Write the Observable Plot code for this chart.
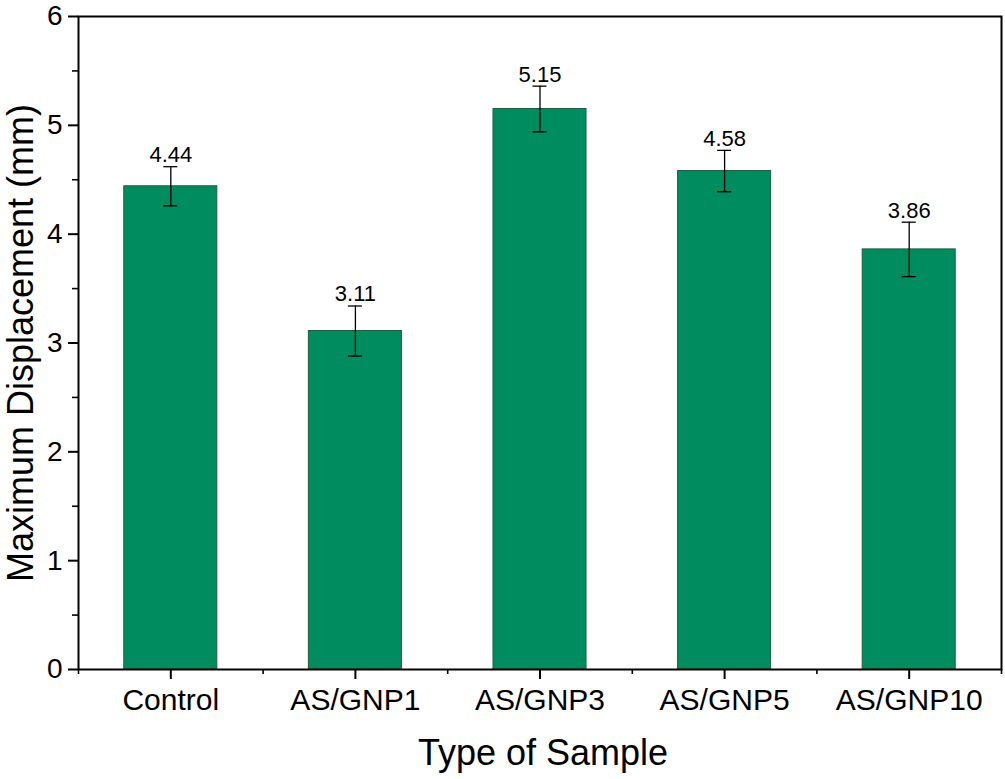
<!DOCTYPE html>
<html>
<head>
<meta charset="utf-8">
<script src="https://cdn.jsdelivr.net/npm/d3@7"></script>
<script src="https://cdn.jsdelivr.net/npm/@observablehq/plot@0.6"></script>
<style>
  html, body { margin: 0; padding: 0; background: #fff; }
  #chart svg { display: block; }
</style>
</head>
<body>
<div id="chart"></div>
<script>
const categories = ["Control", "AS/GNP1", "AS/GNP3", "AS/GNP5", "AS/GNP10"];
const values = [4.44, 3.11, 5.15, 4.58, 3.86];
const errors = [0.18, 0.23, 0.21, 0.19, 0.25];
const yTicks = [0, 1, 2, 3, 4, 5, 6];
const yMinorTicks = [0.5, 1.5, 2.5, 3.5, 4.5, 5.5];
const xTicks = [0, 1, 2, 3, 4];
const xMinorTicks = [-0.5, 0.5, 1.5, 2.5, 3.5, 4.5];
const yTitle = "Maximum Displacement (mm)";
const xTitle = "Type of Sample";

const data = categories.map((c, i) => ({ i, cat: c, value: values[i], err: errors[i] }));

const barHalf = 0.252;
const capHalf = 0.038;
const green = "#008c5e";

const chart = Plot.plot({
  width: 1005,
  height: 779,
  marginLeft: 78,
  marginRight: 4,
  marginTop: 16,
  marginBottom: 110,
  style: { fontFamily: "'Liberation Sans', Arial, sans-serif", background: "#fff", color: "#000" },
  x: { domain: [-0.5, 4.5] },
  y: { domain: [0, 6] },
  marks: [
    Plot.rect(data, {
      x1: d => d.i - barHalf, x2: d => d.i + barHalf,
      y1: 0, y2: "value",
      fill: green, stroke: "#1d5e40", strokeWidth: 1
    }),
    Plot.ruleX(data, { x: "i", y1: d => d.value - d.err, y2: d => d.value + d.err, stroke: "#000", strokeWidth: 1.3 }),
    Plot.ruleY(data, { y: d => d.value + d.err, x1: d => d.i - capHalf, x2: d => d.i + capHalf, stroke: "#000", strokeWidth: 1.3 }),
    Plot.ruleY(data, { y: d => d.value - d.err, x1: d => d.i - capHalf, x2: d => d.i + capHalf, stroke: "#000", strokeWidth: 1.3 }),
    Plot.text(data, {
      x: "i", y: d => d.value + d.err, text: d => d.value.toFixed(2),
      lineAnchor: "bottom", dy: -4.5, fontSize: 22, fill: "#000"
    }),
    Plot.axisY({ ticks: yTicks, tickFormat: d => String(d), tickSize: 10, tickPadding: 6, fontSize: 28, strokeWidth: 2, label: null }),
    Plot.axisY({ ticks: yMinorTicks, tickSize: 6, text: null, strokeWidth: 1.6, label: null }),
    Plot.axisX({ ticks: xTicks, tickFormat: i => categories[i], tickSize: 10, tickPadding: 9, fontSize: 30, strokeWidth: 2, label: null }),
    Plot.axisX({ ticks: xMinorTicks, tickSize: 5, text: null, strokeWidth: 1.6, label: null }),
    Plot.frame({ stroke: "#000", strokeWidth: 2 }),
    Plot.text([yTitle], {
      text: d => d, frameAnchor: "left", rotate: -90, dx: -57,
      textAnchor: "middle", lineAnchor: "middle", fontSize: 36, fill: "#000"
    }),
    Plot.text([xTitle], {
      text: d => d, frameAnchor: "bottom", dy: 84, dx: 3,
      textAnchor: "middle", lineAnchor: "middle", fontSize: 36, fill: "#000"
    })
  ]
});
document.getElementById("chart").appendChild(chart);
</script>
</body>
</html>
